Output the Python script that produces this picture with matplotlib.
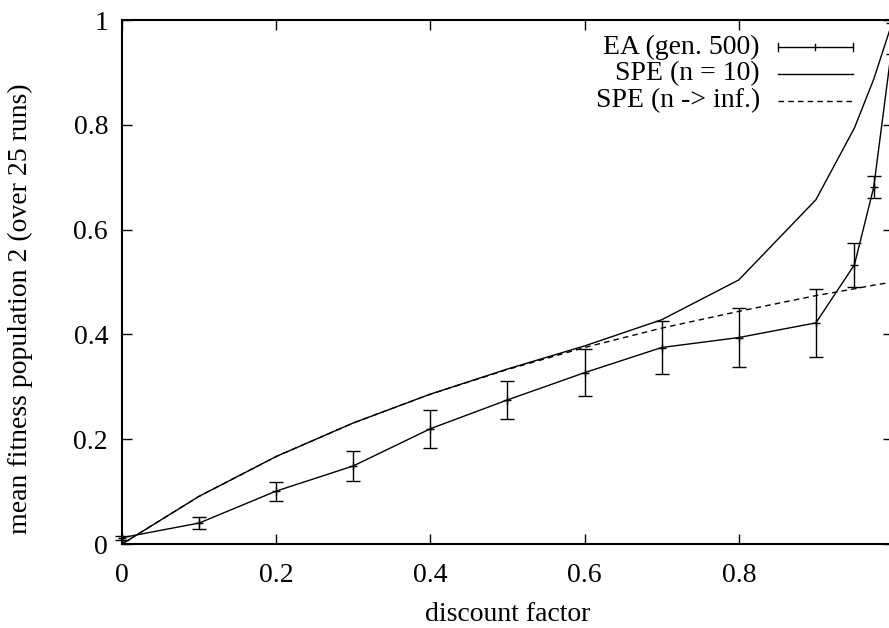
import matplotlib
matplotlib.use("Agg")
import matplotlib.pyplot as plt
from matplotlib.lines import Line2D

plt.rcParams['font.family'] = ['Liberation Serif', 'DejaVu Serif']

# ---- data ----
discount = [0.0, 0.1, 0.2, 0.3, 0.4, 0.5, 0.6, 0.7, 0.8, 0.9, 0.95, 0.975, 1.0]
ea_mean = [0.012, 0.040, 0.101, 0.149, 0.220, 0.275, 0.327, 0.375, 0.394, 0.422, 0.533, 0.681, 0.965]
ea_err = [0.004, 0.011, 0.018, 0.029, 0.036, 0.037, 0.045, 0.051, 0.056, 0.065, 0.042, 0.021, 0.03]
spe_n10 = [0.0, 0.091, 0.167, 0.231, 0.286, 0.334, 0.378, 0.428, 0.504, 0.657, 0.794, 0.887, 1.0]
spe_inf = [0.0, 0.091, 0.167, 0.231, 0.286, 0.333, 0.375, 0.412, 0.444, 0.474, 0.487, 0.494, 0.5]

xticks = [0, 0.2, 0.4, 0.6, 0.8]
xticklabels = ["0", "0.2", "0.4", "0.6", "0.8"]
yticks = [0, 0.2, 0.4, 0.6, 0.8, 1.0]
yticklabels = ["0", "0.2", "0.4", "0.6", "0.8", "1"]

legend_labels = ["EA (gen. 500)", "SPE (n = 10)", "SPE (n -> inf.)"]

W, H = 889, 628
fig = plt.figure(figsize=(W / 100, H / 100), dpi=100)
ax = fig.add_axes([122 / W, (H - 544) / H, (893 - 122) / W, (544 - 20) / H])

ax.errorbar(discount, ea_mean, yerr=ea_err, color='black', lw=1.0,
            elinewidth=1.0, capsize=5, capthick=1.0, marker='+', ms=6, mew=1.0,
            clip_on=False)
ax.plot(discount, spe_n10, color='black', lw=1.0)
ax.plot(discount, spe_inf, color='black', lw=1.0, ls=(0, (4, 3)))

ax.set_xlim(0, 1)
ax.set_ylim(0, 1)
ax.set_xticks(xticks)
ax.set_xticklabels(xticklabels)
ax.set_yticks(yticks)
ax.set_yticklabels(yticklabels)
ax.tick_params(direction='in', length=7, width=1.0, top=True, right=True,
               labelsize=20, pad=10)
ax.tick_params(axis='x', pad=14)
for s in ax.spines.values():
    s.set_linewidth(1.5)

ax.set_xlabel("discount factor", fontsize=20, labelpad=10)
ax.set_ylabel("mean fitness population 2 (over 25 runs)", fontsize=20, va='center')
ax.yaxis.set_label_coords((20 - 122) / 771, (544 - 309) / 524)

# ---- legend (gnuplot style: text right-aligned, sample to the right) ----
tx = (760 - 122) / 771
x0 = (778 - 122) / 771
x1 = (853 - 122) / 771
xm = (x0 + x1) / 2
rows = [(544 - 47) / 524, (544 - 74) / 524, (544 - 101) / 524]
tr = ax.transAxes
for lab, yy in zip(legend_labels, rows):
    ax.text(tx, yy, lab, transform=tr, ha='right', va='center', fontsize=20)
# EA sample
y = rows[0]
ax.add_line(Line2D([x0, x1], [y, y], transform=tr, color='black', lw=1.0))
for xx in (x0, x1):
    ax.add_line(Line2D([xx, xx], [y - 0.008, y + 0.008], transform=tr, color='black', lw=1.0))
ax.add_line(Line2D([xm, xm], [y - 0.006, y + 0.006], transform=tr, color='black', lw=1.0))
# SPE n=10 sample
ax.add_line(Line2D([x0, x1], [rows[1], rows[1]], transform=tr, color='black', lw=1.0))
# SPE inf sample
ax.add_line(Line2D([x0, x1], [rows[2], rows[2]], transform=tr, color='black', lw=1.0,
                   ls=(0, (4, 3))))

fig.savefig("out.png", dpi=100)
